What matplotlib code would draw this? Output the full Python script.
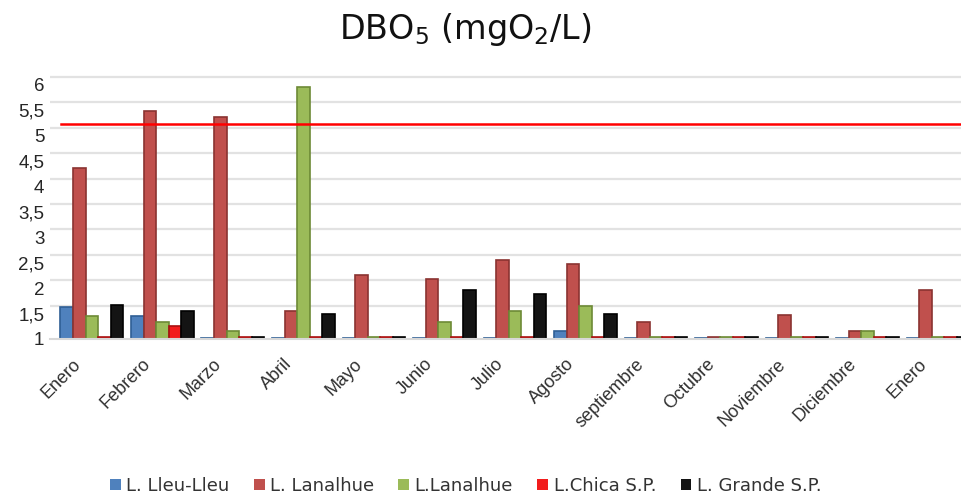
import numpy as np
import matplotlib
matplotlib.use("Agg")
import matplotlib.pyplot as plt
import matplotlib.transforms as mtransforms
from matplotlib.patches import Patch

plt.rcParams['font.family'] = ['Liberation Sans', 'DejaVu Sans']
plt.rcParams['mathtext.default'] = 'regular'

# DBO5 por mes y por lago
meses = ["Enero", "Febrero", "Marzo", "Abril", "Mayo", "Junio", "Julio",
         "Agosto", "septiembre", "Octubre", "Noviembre", "Diciembre", "Enero"]
lleu_lleu = [1.63, 1.45, 1.02, 1.02, 1.02, 1.02, 1.02, 1.16, 1.02, 1.02, 1.02, 1.02, 1.02]
lanalhue = [4.36, 5.49, 5.37, 1.55, 2.25, 2.18, 2.56, 2.47, 1.33, 1.03, 1.47, 1.16, 1.96]
lanalhue_2 = [1.45, 1.33, 1.16, 5.96, 1.03, 1.33, 1.55, 1.64, 1.03, 1.03, 1.03, 1.16, 1.03]
chica = [1.04, 1.26, 1.03, 1.03, 1.03, 1.03, 1.03, 1.03, 1.03, 1.03, 1.03, 1.03, 1.03]
grande = [1.66, 1.56, 1.03, 1.49, 1.03, 1.97, 1.88, 1.49, 1.03, 1.03, 1.03, 1.03, 1.03]
limite = 5.23
yticks = [1, 1.5, 2, 2.5, 3, 3.5, 4, 4.5, 5, 5.5, 6]

series = [("L. Lleu-Lleu", lleu_lleu, "#4f81bd", "#2f5f95"),
          ("L. Lanalhue", lanalhue, "#c0504d", "#8a3331"),
          ("L.Lanalhue", lanalhue_2, "#9bbb59", "#6d8a36"),
          ("L.Chica S.P.", chica, "#f21c1c", "#a81010"),
          ("L. Grande S.P.", grande, "#141414", "#000000")]

fig = plt.figure(figsize=(9.62, 4.97), dpi=100)
ax = fig.add_axes([0.052, 0.318, 0.948, 0.5366])

# back-wall gridlines sit a little above the value labels
grid_tr = mtransforms.offset_copy(ax.get_yaxis_transform(), fig=fig, y=8, units='dots')
for t in yticks[1:]:
    ax.plot([0, 1], [t, t], color="#e2e2e2", lw=1.6, transform=grid_tr, zorder=0)

x = np.arange(len(meses))
w = 0.178
for k, (name, vals, col, edge) in enumerate(series):
    v = np.array(vals)
    ax.bar(x + (k - 2) * w, v - 1, bottom=1, width=w, color=col,
           edgecolor=edge, linewidth=1.2, zorder=2)

ax.axhline(limite, color="#ff0000", lw=1.8, xmin=0.012, zorder=3)

ax.set_xlim(-0.593, 12.34)
ax.set_ylim(1, 6.25)
ax.set_yticks(yticks)
ax.set_yticklabels([("%g" % t).replace(".", ",") for t in yticks])
ax.tick_params(axis='y', length=0, pad=4, labelsize=13.5, labelcolor="#262626")
ax.set_xticks(x)
ax.set_xticklabels(meses, rotation=45, ha='right', rotation_mode='anchor')
ax.tick_params(axis='x', length=0, pad=12, labelsize=13, labelcolor="#303030")
shift = mtransforms.ScaledTranslation(-20 / 100, 0, fig.dpi_scale_trans)
for lab in ax.get_xticklabels():
    lab.set_transform(lab.get_transform() + shift)

for s in ["top", "right", "left"]:
    ax.spines[s].set_visible(False)
ax.spines["bottom"].set_color("#d8d8d8")
ax.spines["bottom"].set_linewidth(1.5)

fig.text(0.484, 0.94, r"DBO$_5$ (mgO$_2$/L)", ha='center', va='center',
         fontsize=24, color="#111111", family='DejaVu Sans')

handles = [Patch(facecolor=c, edgecolor='none', label=n) for n, _, c, _ in series]
fig.legend(handles=handles, loc='center', bbox_to_anchor=(0.484, 0.022), ncol=5,
           frameon=False, prop={'family': 'DejaVu Sans', 'size': 13},
           handlelength=0.6, handleheight=0.6, handletextpad=0.3,
           columnspacing=1.35, labelcolor="#333333")

fig.savefig("out.png", dpi=100)
